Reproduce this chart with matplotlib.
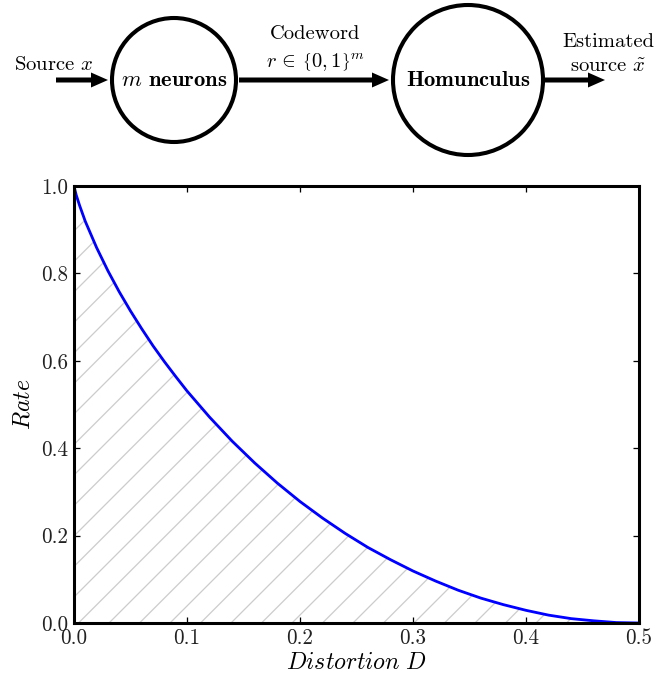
import matplotlib
matplotlib.use('Agg')
import matplotlib.pyplot as plt
from matplotlib.patches import Circle, FancyArrow

# rate-distortion curve values
distortion = [0.0, 0.001, 0.002, 0.005, 0.01, 0.02, 0.03, 0.04, 0.05, 0.06, 0.07, 0.08, 0.09, 0.10,
              0.12, 0.14, 0.16, 0.18, 0.20, 0.22, 0.24, 0.26, 0.28, 0.30, 0.32, 0.34, 0.36, 0.38,
              0.40, 0.42, 0.44, 0.46, 0.48, 0.50]
rate = [1.0, 0.989, 0.979, 0.955, 0.919, 0.859, 0.806, 0.758, 0.714, 0.673, 0.634, 0.598, 0.564, 0.531,
        0.471, 0.416, 0.366, 0.320, 0.278, 0.240, 0.205, 0.173, 0.145, 0.119, 0.096, 0.075, 0.057, 0.042,
        0.029, 0.018, 0.010, 0.005, 0.001, 0.0]
x_ticks = [0.0, 0.1, 0.2, 0.3, 0.4, 0.5]
y_ticks = [0.0, 0.2, 0.4, 0.6, 0.8, 1.0]

plt.rcParams['font.family'] = 'serif'
plt.rcParams['font.serif'] = ['cmr10']
plt.rcParams['mathtext.fontset'] = 'cm'
plt.rcParams['axes.formatter.use_mathtext'] = True
plt.rcParams['hatch.linewidth'] = 0.5

DPI = 183
W, H = 671, 675
fig = plt.figure(figsize=(W / DPI, H / DPI), dpi=DPI)

# --- block diagram on top (pixel-like coordinates) ---
top_h = 165
dg = fig.add_axes([0, 1 - top_h / H, 1, top_h / H])
dg.set_xlim(0, W)
dg.set_ylim(top_h, 0)
dg.axis('off')

yc = 80
for cx, r in [(174, 62), (468, 75)]:
    dg.add_patch(Circle((cx, yc), r, fill=False, edgecolor='black', lw=1.6))
for x0, x1 in [(56, 108), (239, 389), (545, 605)]:
    dg.add_patch(FancyArrow(x0, yc, x1 - x0, 0, width=5, head_width=15, head_length=17,
                            length_includes_head=True, color='black', lw=0))

fs = 8.1
fb = 8.9
dg.text(54, 65, 'Source $x$', ha='center', va='center', fontsize=fs)
dg.text(174, 80, r'$m$ $\mathbf{neurons}$', ha='center', va='center', fontsize=fb)
dg.text(315, 34, 'Codeword', ha='center', va='center', fontsize=fs)
dg.text(315, 63, r'$r\,\in\,\left\{0,1\right\}^m$', ha='center', va='center', fontsize=fs)
dg.text(468, 80, r'$\mathbf{Homunculus}$', ha='center', va='center', fontsize=fb)
dg.text(608, 42, 'Estimated', ha='center', va='center', fontsize=fs)
dg.text(608, 67, r'source $\tilde{x}$', ha='center', va='center', fontsize=fs)

# --- rate distortion plot ---
ax = fig.add_axes([74 / W, 1 - 623 / H, (639 - 74) / W, (623 - 186) / H])
ax.fill_between(distortion, 0, rate, facecolor='none', edgecolor='0.8', hatch='//', linewidth=0)
ax.plot(distortion, rate, color='#0000ff', lw=1.1)
ax.set_xlim(0, 0.5)
ax.set_ylim(0, 1)
ax.set_xticks(x_ticks)
ax.set_yticks(y_ticks)
ax.set_xticklabels(['%.1f' % t for t in x_ticks])
ax.set_yticklabels(['%.1f' % t for t in y_ticks])
ax.tick_params(direction='in', top=True, right=True, length=2.2, width=0.5, labelsize=8.3,
               pad=2.3, labelcolor='#222222')
for s in ax.spines.values():
    s.set_linewidth(1.2)
ax.set_xlabel(r'$Distortion\ D$', fontsize=9.4)
ax.set_ylabel(r'$Rate$', fontsize=9.4)
ax.xaxis.set_label_coords(0.5, -(652 - 623) / (623 - 186))
ax.yaxis.set_label_coords(-(74 - 34) / (639 - 74), 0.5)

fig.savefig('out.png', dpi=DPI)
